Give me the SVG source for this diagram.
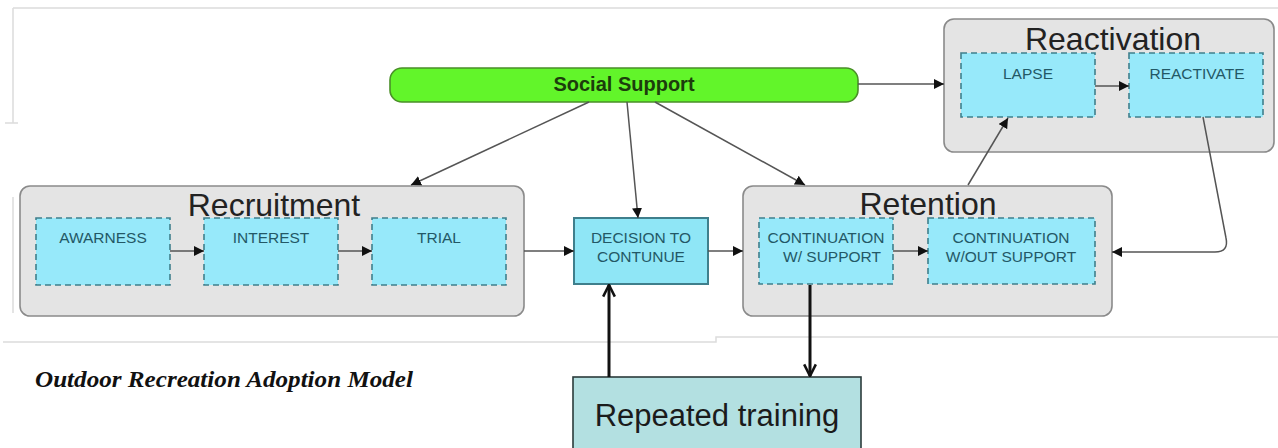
<svg xmlns="http://www.w3.org/2000/svg" width="1278" height="448" viewBox="0 0 1278 448">
<style>
.bg{fill:none;stroke:#dcdcdc;stroke-width:1.5}
.cont{fill:#e4e4e4;stroke:#8a8a8a;stroke-width:1.6}
.inner{fill:#97e9fa;stroke:#3f7f8c;stroke-width:1.6;stroke-dasharray:6 4}
.title{font-family:"Liberation Sans",Arial,sans-serif;font-size:32px;fill:#222;text-anchor:middle}
.lbl{font-family:"Liberation Sans",Arial,sans-serif;font-size:15.5px;fill:#235866;text-anchor:middle}
.conn{fill:none;stroke:#555;stroke-width:1.5}
.thick{fill:none;stroke:#111;stroke-width:3}
</style>
<defs>
<marker id="tri" viewBox="0 0 10 10" refX="10" refY="5" markerWidth="10" markerHeight="10" markerUnits="userSpaceOnUse" orient="auto">
<path d="M0,0 L10,5 L0,10 z" fill="#111"/>
</marker>
<marker id="chev" viewBox="0 0 12 12" refX="11" refY="6" markerWidth="14" markerHeight="14" markerUnits="userSpaceOnUse" orient="auto">
<path d="M1,1 L11,6 L1,11" fill="none" stroke="#111" stroke-width="2.2"/>
</marker>
</defs>
<rect width="1278" height="448" fill="#ffffff"/>
<g id="background-lines">
<path class="bg" d="M13,8 H1278 M13,8 V123 M5,123 H18 M13,197 V313 M3,342 H716 V337 H1278"/>
</g>
<g id="caption">
<text x="35" y="387" font-family="'Liberation Serif','Times New Roman',serif" font-weight="bold" font-style="italic" font-size="24" fill="#111" textLength="378" lengthAdjust="spacingAndGlyphs">Outdoor Recreation Adoption Model</text>
</g>
<g id="social-support">
<rect x="390" y="68" width="468" height="34" rx="12" fill="#62f52a" stroke="#4a8f28" stroke-width="1.6"/>
<text x="624" y="91" font-family="'Liberation Sans',Arial,sans-serif" font-weight="bold" font-size="20" fill="#1c3d0c" text-anchor="middle">Social Support</text>
</g>
<g id="reactivation">
<rect class="cont" x="944" y="19" width="330" height="133" rx="10"/>
<text class="title" x="1113" y="50">Reactivation</text>
</g>
<g id="lapse">
<rect class="inner" x="961" y="53" width="134" height="64"/>
<text class="lbl" x="1028" y="79">LAPSE</text>
</g>
<g id="reactivate">
<rect class="inner" x="1129" y="53" width="134" height="64"/>
<text class="lbl" x="1197" y="79">REACTIVATE</text>
</g>
<g id="recruitment">
<rect class="cont" x="20" y="186" width="504" height="130" rx="10"/>
<text class="title" x="274" y="216">Recruitment</text>
</g>
<g id="awarness">
<rect class="inner" x="36" y="218" width="134" height="67"/>
<text class="lbl" x="103" y="243">AWARNESS</text>
</g>
<g id="interest">
<rect class="inner" x="204" y="218" width="134" height="67"/>
<text class="lbl" x="271" y="243">INTEREST</text>
</g>
<g id="trial">
<rect class="inner" x="372" y="218" width="134" height="67"/>
<text class="lbl" x="439" y="243">TRIAL</text>
</g>
<g id="decision">
<rect x="574" y="218" width="134" height="66" fill="#8fe6f6" stroke="#3f7f8c" stroke-width="2"/>
<text class="lbl" x="641" y="243">DECISION TO</text>
<text class="lbl" x="641" y="262">CONTUNUE</text>
</g>
<g id="retention">
<rect class="cont" x="743" y="186" width="369" height="130" rx="10"/>
<text class="title" x="928" y="215">Retention</text>
</g>
<g id="cont-with">
<rect class="inner" x="759" y="218" width="134" height="66"/>
<text class="lbl" x="826" y="243">CONTINUATION</text>
<text class="lbl" x="832" y="262">W/ SUPPORT</text>
</g>
<g id="cont-without">
<rect class="inner" x="928" y="218" width="167" height="66"/>
<text class="lbl" x="1011" y="243">CONTINUATION</text>
<text class="lbl" x="1011" y="262">W/OUT SUPPORT</text>
</g>
<g id="repeated-training">
<rect x="573" y="377" width="288" height="80" fill="#b3e0e1" stroke="#2b3b3b" stroke-width="1.6"/>
<text x="717" y="426" font-family="'Liberation Sans',Arial,sans-serif" font-size="31" fill="#1b1b1b" text-anchor="middle">Repeated training</text>
</g>
<g id="connectors">
<path class="conn" d="M858,84 H944" marker-end="url(#tri)"/>
<path class="conn" d="M1095,86 H1129" marker-end="url(#tri)"/>
<path class="conn" d="M589,102 L411,185" marker-end="url(#tri)"/>
<path class="conn" d="M627,102 L638,218" marker-end="url(#tri)"/>
<path class="conn" d="M655,102 L805,185" marker-end="url(#tri)"/>
<path class="conn" d="M968,185 L1008,118" marker-end="url(#tri)"/>
<path class="conn" d="M1203,117 L1226,238 Q1229,252 1215,252 H1112" marker-end="url(#tri)"/>
<path class="conn" d="M170,251 H204" marker-end="url(#tri)"/>
<path class="conn" d="M338,251 H372" marker-end="url(#tri)"/>
<path class="conn" d="M524,251 H574" marker-end="url(#tri)"/>
<path class="conn" d="M708,251 H743" marker-end="url(#tri)"/>
<path class="conn" d="M893,251 H928" marker-end="url(#tri)"/>
<path class="thick" d="M609,377 V285" marker-end="url(#chev)"/>
<path class="thick" d="M810,285 V376" marker-end="url(#chev)"/>
</g>
</svg>
